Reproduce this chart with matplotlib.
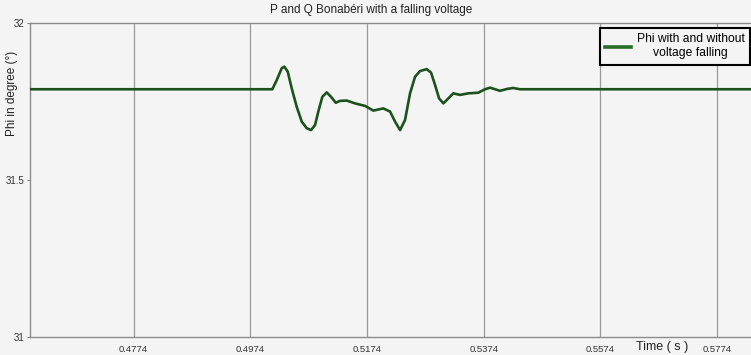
import matplotlib
matplotlib.use("Agg")
import matplotlib.pyplot as plt

# ---- data ----
time_s = [0.4596, 0.50117, 0.50192, 0.50278, 0.50323, 0.50381, 0.50449, 0.50535,
          0.50621, 0.50707, 0.50780, 0.50849, 0.50905, 0.50974, 0.51049, 0.51123,
          0.51204, 0.51277, 0.51392, 0.51534, 0.51706, 0.51848, 0.52019, 0.52134,
          0.52220, 0.52306, 0.52391, 0.52477, 0.52563, 0.52648, 0.52763, 0.52837,
          0.52905, 0.52974, 0.53048, 0.53134, 0.53219, 0.53334, 0.53476, 0.53647,
          0.53762, 0.53848, 0.53934, 0.54019, 0.54139, 0.54242, 0.54362, 0.5832]
phi_deg = [31.789, 31.789, 31.818, 31.856, 31.861, 31.845, 31.792, 31.733,
           31.686, 31.665, 31.659, 31.675, 31.718, 31.765, 31.779, 31.765,
           31.746, 31.752, 31.753, 31.744, 31.736, 31.721, 31.728, 31.718,
           31.686, 31.659, 31.691, 31.776, 31.829, 31.847, 31.853, 31.842,
           31.803, 31.760, 31.744, 31.760, 31.776, 31.771, 31.776, 31.778,
           31.789, 31.794, 31.789, 31.784, 31.790, 31.793, 31.789, 31.789]
x_ticks = [0.4774, 0.4974, 0.5174, 0.5374, 0.5574, 0.5774]
x_tick_labels = ["0.4774", "0.4974", "0.5174", "0.5374", "0.5574", "0.5774"]
y_ticks = [31, 31.5, 32]
y_tick_labels = ["31", "31.5", "32"]
x_limits = (0.45964, 0.5832)
y_limits = (31, 32)
series_label = "Phi with and without\nvoltage falling"

plt.rcParams['font.family'] = ['Liberation Sans', 'DejaVu Sans']

W, H = 751, 355
fig = plt.figure(figsize=(W / 100, H / 100), dpi=100)
bg = '#f4f4f4'
fig.patch.set_facecolor(bg)

ax = fig.add_axes([30 / W, (H - 337) / H, (W - 30) / W, 314 / H])
ax.set_facecolor(bg)

ax.plot(time_s, phi_deg, color='#1c521c', lw=1.9, label=series_label, zorder=3)

ax.set_xlim(*x_limits)
ax.set_ylim(*y_limits)
ax.set_xticks(x_ticks)
ax.set_xticklabels(x_tick_labels, fontsize=6.8, color='#333333')
ax.set_yticks(y_ticks)
ax.set_yticklabels(y_tick_labels, fontsize=7, color='#333333')
ax.tick_params(axis='x', length=0, pad=6)
ax.tick_params(axis='y', length=2, pad=2, color='#888888')

ax.grid(axis='x', color='#9a9a9a', lw=0.9)
ax.grid(axis='y', visible=False)

for s in ['left', 'bottom', 'top']:
    ax.spines[s].set_color('#8c8c8c')
    ax.spines[s].set_linewidth(1.0)
ax.spines['right'].set_visible(False)

ax.set_title("P and Q Bonabéri with a falling voltage", fontsize=8.5,
             x=(371.5 - 30) / (W - 30), pad=7, color='#222222')
fig.text(12 / W, 1 - 93 / H, "Phi in degree (°)", rotation=90,
         ha='center', va='center', fontsize=8.5, color='#222222')
fig.text(662.5 / W, 1 - 347 / H, "Time ( s )", ha='center', va='center',
         fontsize=9, color='#222222')

leg = ax.legend(loc='upper right', bbox_to_anchor=(750 / W, 1 - 28 / H),
                bbox_transform=fig.transFigure, fontsize=8.7, frameon=True,
                fancybox=False, handlelength=2.1, handletextpad=0.5,
                borderpad=0.45, borderaxespad=0)
leg.get_frame().set_edgecolor('black')
leg.get_frame().set_linewidth(1.5)
leg.get_frame().set_facecolor(bg)
leg.get_frame().set_alpha(1)
leg.get_lines()[0].set_linewidth(2.6)
leg.get_lines()[0].set_color('#2a6e2a')
for t in leg.get_texts():
    t.set_multialignment('center')

fig.savefig('out.png', dpi=100, facecolor=bg)
